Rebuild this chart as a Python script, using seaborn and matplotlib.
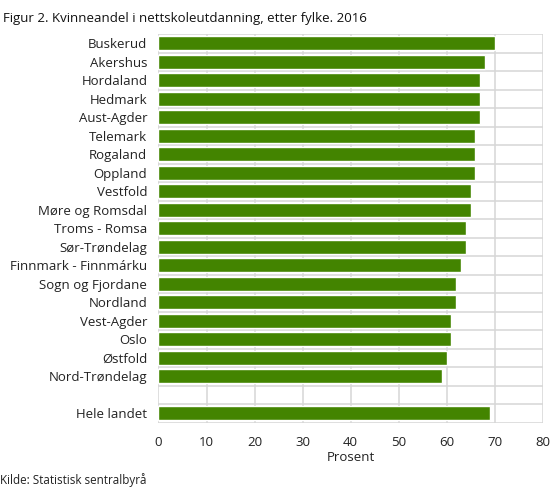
import matplotlib
matplotlib.use("Agg")
import matplotlib.pyplot as plt
import seaborn as sns
import pandas as pd
from matplotlib.ticker import MultipleLocator, FixedLocator

counties = ["Buskerud", "Akershus", "Hordaland", "Hedmark", "Aust-Agder",
            "Telemark", "Rogaland", "Oppland", "Vestfold", "Møre og Romsdal",
            "Troms - Romsa", "Sør-Trøndelag", "Finnmark - Finnmárku",
            "Sogn og Fjordane", "Nordland", "Vest-Agder", "Oslo", "Østfold",
            "Nord-Trøndelag", "Hele landet"]
values = [70, 68, 67, 67, 67, 66, 66, 66, 65, 65, 64, 64, 63, 62, 62, 61, 61,
          60, 59, 69]
blank = " "
order = counties[:-1] + [blank] + counties[-1:]

title = "Figur 2. Kvinneandel i nettskoleutdanning, etter fylke. 2016"
xlabel = "Prosent"
source = "Kilde: Statistisk sentralbyrå"

sns.set_theme(style="white")
plt.rcParams["font.family"] = ["Open Sans", "DejaVu Sans"]

df = pd.DataFrame({"fylke": counties, "prosent": values})

fig = plt.figure(figsize=(5.6, 4.88), dpi=100)
ax = fig.add_axes([0.283, 0.134, 0.686, 0.796])

sns.barplot(data=df, x="prosent", y="fylke", order=order, color="#438400",
            saturation=1, width=0.76, ax=ax, zorder=3)

ax.set_xlim(0, 80)
ax.set_ylim(len(order) - 0.5, -0.5)
ax.xaxis.set_major_locator(MultipleLocator(10))
ax.yaxis.set_minor_locator(FixedLocator([i - 0.5 for i in range(len(order) + 1)]))
ax.grid(axis="x", which="major", color="#d6d6d6", linewidth=1.1, zorder=0)
ax.grid(axis="y", which="minor", color="#d6d6d6", linewidth=1.1, zorder=0)
ax.grid(axis="y", which="major", visible=False)
for s in ax.spines.values():
    s.set_visible(False)
ax.tick_params(axis="both", which="both", length=0)
ax.tick_params(axis="y", labelsize=9.5, pad=8, colors="#222222")
ax.tick_params(axis="x", labelsize=9.5, pad=10, colors="#222222")
ax.set_ylabel("")
ax.set_xlabel(xlabel, fontsize=9.5, color="#222222", labelpad=1)

fig.text(0.005, 0.962, title, fontsize=9.5, color="#111111", va="center", ha="left")
fig.text(0.0, 0.016, source, fontsize=8.4, color="#222222", va="center", ha="left")

fig.savefig("out.png", dpi=100)
